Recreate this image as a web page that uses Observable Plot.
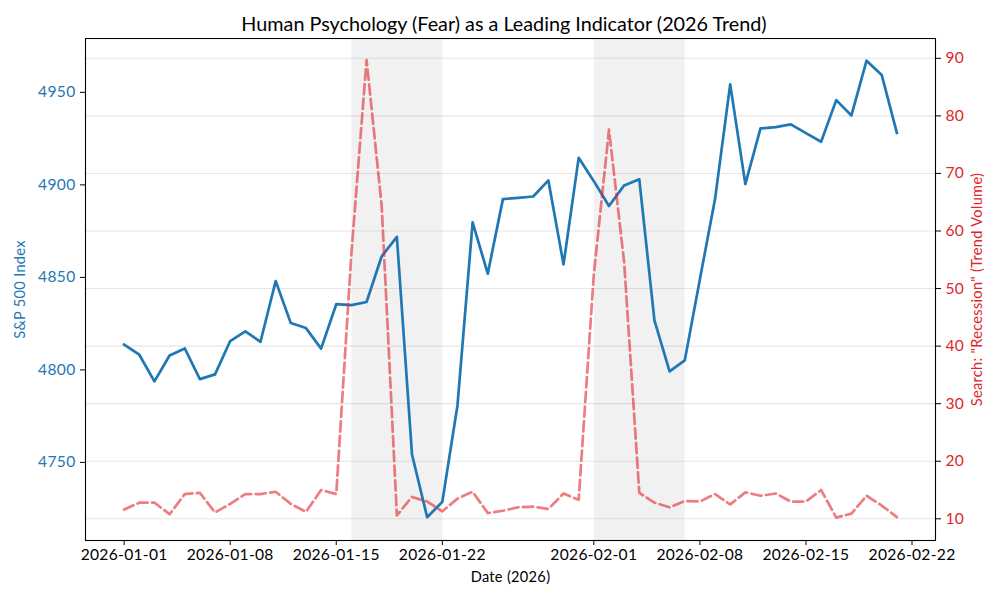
<!DOCTYPE html>
<html>
<head>
<meta charset="utf-8">
<script src="https://cdn.jsdelivr.net/npm/d3@7"></script>
<script src="https://cdn.jsdelivr.net/npm/@observablehq/plot@0.6"></script>
<style>
  html, body { margin: 0; padding: 0; background: #fff; }
  #title { height: 38px; width: 1000px; box-sizing: border-box; padding-left: 8px; text-align: center;
           font: 19.8px/47px Lato, sans-serif; color: #000; white-space: nowrap; }
  svg { display: block; }
</style>
</head>
<body>
<div id="title">Human Psychology (Fear) as a Leading Indicator (2026 Trend)</div>
<script>
const dates = ["2026-01-01","2026-01-02","2026-01-03","2026-01-04","2026-01-05","2026-01-06","2026-01-07","2026-01-08","2026-01-09","2026-01-10",
  "2026-01-11","2026-01-12","2026-01-13","2026-01-14","2026-01-15","2026-01-16","2026-01-17","2026-01-18","2026-01-19","2026-01-20",
  "2026-01-21","2026-01-22","2026-01-23","2026-01-24","2026-01-25","2026-01-26","2026-01-27","2026-01-28","2026-01-29","2026-01-30",
  "2026-01-31","2026-02-01","2026-02-02","2026-02-03","2026-02-04","2026-02-05","2026-02-06","2026-02-07","2026-02-08","2026-02-09",
  "2026-02-10","2026-02-11","2026-02-12","2026-02-13","2026-02-14","2026-02-15","2026-02-16","2026-02-17","2026-02-18","2026-02-19",
  "2026-02-20","2026-02-21"];
const sp500 = [4813.6,4808.2,4793.8,4807.8,4811.6,4795,4797.6,4815.6,4820.8,4815.2,
  4848,4825.3,4822.6,4811.5,4835.5,4835,4836.7,4861.4,4871.9,4754.3,
  4720.4,4728.7,4780.8,4879.7,4852,4892.3,4893,4893.7,4902.4,4857,
  4914.6,4902,4888.6,4899.7,4903,4826.8,4799.2,4805.1,4849,4892.3,
  4954.3,4900.4,4930.5,4931.2,4932.7,4928,4923.3,4945.8,4937.5,4967.1,
  4959.4,4928.1];
const searchVolume = [11.6,12.8,12.8,10.8,14.3,14.5,11.1,12.6,14.3,14.3,
  14.7,12.6,11.2,15,14.3,56.1,89.7,64.3,10.6,13.8,
  13,11.3,13.5,14.7,11,11.4,12,12.1,11.7,14.4,
  13.3,52.5,77.6,54.6,14.5,12.8,12,13.1,13,14.3,
  12.5,14.6,14,14.4,13,13,15,10.2,10.9,14,
  12.3,10.3];
const xTicks = ["2026-01-01","2026-01-08","2026-01-15","2026-01-22","2026-02-01","2026-02-08","2026-02-15","2026-02-22"];
const xDomain = ["2025-12-29T10:48:00Z","2026-02-23T13:12:00Z"];
const spTicks = [4750,4800,4850,4900,4950];
const spDomain = [4707.8,4979.1];
const searchTicks = [10,20,30,40,50,60,70,80,90];
const searchDomain = [6.23,93.44];
const shadeStart = ["2026-01-16","2026-02-01"];
const shadeEnd = ["2026-01-22","2026-02-07"];

const BLUE = "#1f77b4", RED = "#e0262b";
const rows = dates.map((d,i)=>({date:new Date(d), sp:sp500[i], search:searchVolume[i]}));
const shades = shadeStart.map((s,i)=>({start:new Date(s), end:new Date(shadeEnd[i])}));
// second y axis: Plot's documented dual-axis pattern
const toLeft = d3.scaleLinear(searchDomain, spDomain);
const fmt = d3.utcFormat("%Y-%m-%d");

const chart = Plot.plot({
  width: 1000, height: 562,
  marginLeft: 85, marginRight: 65, marginTop: 0, marginBottom: 60,
  style: {fontFamily: "Lato, sans-serif", fontSize: "15.6px", letterSpacing: "0.3px", background: "#fff", color: "#000"},
  x: {type: "utc", domain: xDomain.map(d=>new Date(d))},
  y: {domain: spDomain},
  marks: [
    Plot.rectX(shades, {x1:"start", x2:"end", fill:"gray", fillOpacity:0.11, dx:0.5}),
    Plot.lineY(rows, {x:"date", y:"sp", stroke:BLUE, strokeWidth:2.7, strokeLinejoin:"round", strokeLinecap:"square"}),
    Plot.ruleY(searchTicks, {y:toLeft, stroke:"gray", strokeOpacity:0.2, strokeWidth:1.1}),
    Plot.lineY(rows, {x:"date", y:d=>toLeft(d.search), stroke:RED, strokeOpacity:0.6, strokeWidth:2.7, strokeDasharray:"10.3,4.4", strokeLinejoin:"round"}),
    Plot.frame({stroke:"#000", strokeWidth:1.1}),
    Plot.axisX(xTicks.map(d=>new Date(d)), {anchor:"bottom", tickSize:5, tickPadding:3, tickFormat:fmt, stroke:"#000", fill:"#000",
      label:null}),
    Plot.axisY(spTicks, {anchor:"left", tickSize:5, tickPadding:5, stroke:"#000", fill:BLUE, label:null, tickFormat:d3.format("d")}),
    Plot.axisY(searchTicks, {anchor:"right", y:toLeft, tickSize:5, tickPadding:5, stroke:"#000", fill:RED, label:null, tickFormat:d3.format("d")}),
    Plot.text(["Date (2026)"], {frameAnchor:"bottom", dy:37, fontSize:14.6, fill:"#000", lineAnchor:"middle", textAnchor:"middle"}),
    Plot.text(["S&P 500 Index"], {frameAnchor:"left", dx:-65, rotate:-90, fontSize:14.6, fill:BLUE, lineAnchor:"middle", textAnchor:"middle"}),
    Plot.text(['Search: "Recession" (Trend Volume)'], {frameAnchor:"right", dx:42, rotate:-90, fontSize:14.6, fill:RED, lineAnchor:"middle", textAnchor:"middle"})
  ]
});
document.body.appendChild(chart);
</script>
</body>
</html>
